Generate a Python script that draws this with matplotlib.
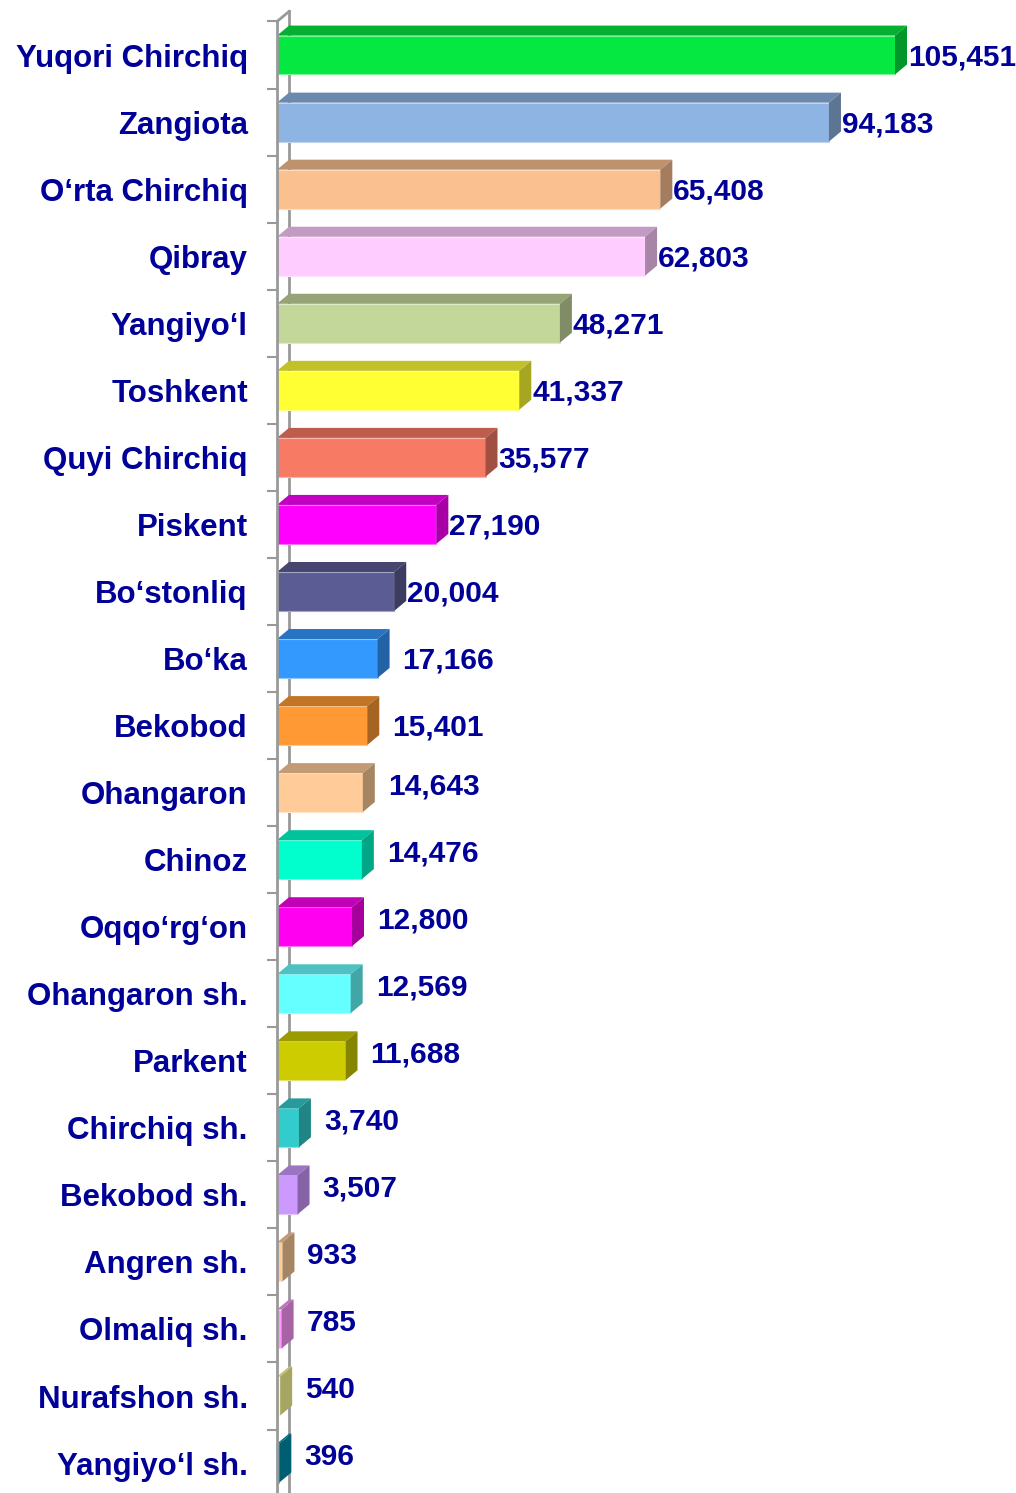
import matplotlib.pyplot as plt
from matplotlib.patches import Polygon
from matplotlib.colors import to_rgb

districts = ["Yuqori Chirchiq", "Zangiota", "O‘rta Chirchiq", "Qibray", "Yangiyo‘l",
             "Toshkent", "Quyi Chirchiq", "Piskent", "Bo‘stonliq", "Bo‘ka", "Bekobod",
             "Ohangaron", "Chinoz", "Oqqo‘rg‘on", "Ohangaron sh.", "Parkent",
             "Chirchiq sh.", "Bekobod sh.", "Angren sh.", "Olmaliq sh.",
             "Nurafshon sh.", "Yangiyo‘l sh."]
values = [105451, 94183, 65408, 62803, 48271, 41337, 35577, 27190, 20004, 17166, 15401,
          14643, 14476, 12800, 12569, 11688, 3740, 3507, 933, 785, 540, 396]
colors = ["#05E842", "#8DB4E2", "#FAC090", "#FFCCFF", "#C4D79B", "#FFFF33", "#F77A65",
          "#FF00FF", "#5C5C94", "#3399FF", "#FF9933", "#FFCC99", "#00FFCC", "#FF00F0",
          "#66FFFF", "#CCCC00", "#33CCCC", "#CC99FF", "#FFCC99", "#FF99FF", "#FFFF99",
          "#0090B0"]

NAVY = "#000099"
GRAY = "#999999"


def shade(c, f):
    r, g, b = to_rgb(c)
    return (r * f, g * f, b * f)


def tint(c, f):
    r, g, b = to_rgb(c)
    return (r + (1 - r) * f, g + (1 - g) * f, b + (1 - b) * f)


W, H = 1016, 1493
fig = plt.figure(figsize=(W / 100, H / 100), dpi=100)
plt.rcParams['font.family'] = ['Liberation Sans', 'DejaVu Sans']

xmax = 120000
px_per_unit = 618 / 105451
ax_w = xmax * px_per_unit
slot = 67.05
top_px = 21.5
n = len(values)
ax_h = slot * n
ax = fig.add_axes([277 / W, (H - top_px - ax_h) / H, ax_w / W, ax_h / H])
ax.set_xlim(0, xmax)
ax.set_ylim(n - 0.5, -0.5)

# 3d depth in data units
dx = 12 / px_per_unit
dy = 10 / slot
h = 0.58

ys = list(range(n))
ax.barh(ys, values, height=h, color=colors,
        edgecolor=[tint(c, 0.45) for c in colors], linewidth=0.8, zorder=3)

for y, v, c in zip(ys, values, colors):
    t = y - h / 2
    b = y + h / 2
    top = Polygon([(0, t), (v, t), (v + dx, t - dy), (dx, t - dy)], closed=True,
                  facecolor=shade(c, 0.76), edgecolor="none", zorder=3)
    side = Polygon([(v, t), (v + dx, t - dy), (v + dx, b - dy), (v, b)], closed=True,
                   facecolor=shade(c, 0.65), edgecolor="none", zorder=3)
    ax.add_patch(top)
    ax.add_patch(side)

    gap_px = 1 if v >= 20000 else 13
    off_px = 2 if v >= 15000 else -6
    ax.annotate(f"{v:,}", (v + dx, y), xytext=(gap_px * 0.72, -off_px * 0.72),
                textcoords="offset points", ha="left", va="center",
                fontsize=21.5, fontweight="bold", color=NAVY, zorder=5)

# wall: back line and top edge
ax.plot([dx, dx], [-0.5 - dy, n - 0.5], color=GRAY, lw=2, zorder=1, clip_on=False)
ax.plot([0, dx], [-0.5, -0.5 - dy], color=GRAY, lw=2, zorder=1, clip_on=False)

for s in ["top", "right", "bottom"]:
    ax.spines[s].set_visible(False)
ax.spines["left"].set_color(GRAY)
ax.spines["left"].set_linewidth(2)
ax.spines["left"].set_zorder(4)

ax.set_xticks([])
ax.set_yticks(ys)
ax.set_yticklabels(districts, fontsize=22.5, fontweight="bold", color=NAVY)
ax.tick_params(axis="y", which="major", length=0, pad=21)
ax.set_yticks([i - 0.5 for i in range(n + 1)], minor=True)
ax.tick_params(axis="y", which="minor", length=7.2, width=1.5, color=GRAY)

fig.savefig("out.png", dpi=100)
